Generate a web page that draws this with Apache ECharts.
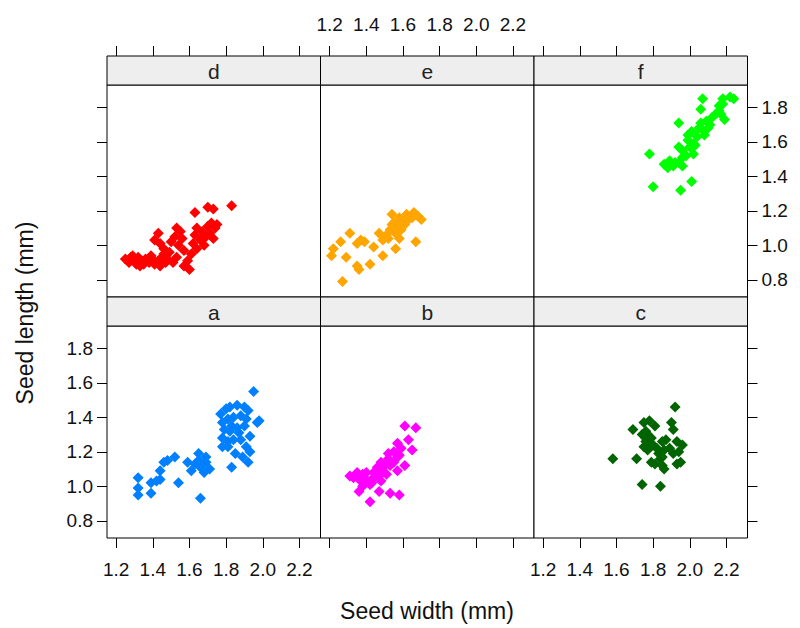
<!DOCTYPE html>
<html>
<head>
<meta charset="utf-8">
<script src="https://cdn.jsdelivr.net/npm/echarts@6/dist/echarts.min.js"></script>
<style>
  body { margin: 0; background: #fff; }
  #chart { width: 800px; height: 628px; }
</style>
</head>
<body>
<div id="chart"></div>
<script>
// panel order: top row d e f, bottom row a b c
const panelNames = ['d', 'e', 'f', 'a', 'b', 'c'];
const panelColors = ['#ff0000', '#ffa500', '#00ff00', '#0080ff', '#ff00ff', '#006400'];
const xTicks = [1.2, 1.4, 1.6, 1.8, 2.0, 2.2];
const yTicks = [0.8, 1.0, 1.2, 1.4, 1.6, 1.8];

// [seed width, seed length]
const seedsD = [
  [1.25, 0.92], [1.27, 0.90], [1.28, 0.93], [1.30, 0.91], [1.31, 0.89], [1.32, 0.93], [1.34, 0.91],
  [1.35, 0.89], [1.36, 0.92], [1.38, 0.90], [1.40, 0.92], [1.41, 0.89], [1.43, 0.91], [1.44, 0.88],
  [1.45, 0.93], [1.47, 0.90], [1.48, 0.92], [1.43, 1.07], [1.41, 1.03], [1.44, 1.01], [1.46, 0.98],
  [1.49, 0.96], [1.50, 1.02], [1.52, 1.05], [1.53, 1.10], [1.54, 1.00], [1.55, 1.08], [1.56, 1.04],
  [1.57, 0.97], [1.57, 0.88], [1.59, 0.91], [1.60, 0.86], [1.61, 0.95], [1.62, 1.01], [1.63, 1.06],
  [1.64, 1.10], [1.64, 0.98], [1.66, 1.03], [1.67, 1.08], [1.68, 1.00], [1.69, 1.05], [1.70, 1.11],
  [1.71, 1.07], [1.72, 1.13], [1.74, 1.10], [1.75, 1.12], [1.73, 1.04], [1.63, 1.19], [1.70, 1.22],
  [1.73, 1.21], [1.83, 1.23], [1.29, 0.94], [1.33, 0.88], [1.39, 0.94], [1.46, 0.95], [1.51, 0.90],
  [1.53, 0.93]
];
const seedsE = [
  [1.27, 0.79], [1.21, 0.94], [1.22, 0.98], [1.26, 1.02], [1.31, 1.07], [1.29, 0.93], [1.35, 0.88],
  [1.36, 0.86], [1.42, 0.89], [1.35, 1.01], [1.37, 1.03], [1.39, 1.02], [1.44, 0.99], [1.49, 0.94],
  [1.56, 0.98], [1.67, 1.02], [1.47, 1.07], [1.49, 1.03], [1.54, 1.18], [1.58, 1.16], [1.62, 1.18],
  [1.66, 1.19], [1.70, 1.15], [1.55, 1.13], [1.57, 1.12], [1.60, 1.14], [1.63, 1.15], [1.53, 1.09],
  [1.56, 1.07], [1.58, 1.04], [1.51, 1.06], [1.56, 1.10], [1.59, 1.09], [1.65, 1.16], [1.68, 1.17],
  [1.61, 1.12], [1.52, 1.04], [1.54, 1.12]
];
const seedsF = [
  [1.80, 1.34], [1.95, 1.32], [2.01, 1.37], [1.78, 1.53], [1.94, 1.71], [2.06, 1.79], [2.07, 1.85],
  [2.18, 1.85], [2.22, 1.86], [2.24, 1.85], [1.94, 1.57], [1.86, 1.47], [1.88, 1.45], [1.91, 1.46],
  [1.94, 1.48], [1.96, 1.46], [1.89, 1.49], [1.96, 1.51], [1.98, 1.52], [1.96, 1.55], [2.00, 1.57],
  [1.99, 1.61], [2.02, 1.59], [2.04, 1.63], [2.01, 1.66], [2.05, 1.68], [2.07, 1.67], [2.06, 1.71],
  [2.09, 1.72], [2.11, 1.70], [2.12, 1.74], [2.14, 1.76], [2.16, 1.78], [2.17, 1.76], [2.19, 1.73],
  [2.16, 1.81], [2.18, 1.82], [2.02, 1.53], [1.99, 1.64], [2.03, 1.58], [1.92, 1.48], [2.08, 1.64],
  [2.10, 1.68]
];
const seedsA = [
  [1.32, 0.95], [1.32, 0.99], [1.32, 1.05], [1.39, 0.96], [1.39, 1.02], [1.42, 1.03], [1.44, 1.04],
  [1.44, 1.09], [1.54, 1.02], [1.46, 1.14], [1.48, 1.15], [1.52, 1.17], [1.59, 1.14], [1.61, 1.09],
  [1.66, 0.93], [1.65, 1.19], [1.69, 1.17], [1.63, 1.13], [1.66, 1.11], [1.69, 1.14], [1.71, 1.10],
  [1.68, 1.08], [1.65, 1.15], [1.83, 1.11], [1.95, 1.55], [1.80, 1.45], [1.82, 1.46], [1.86, 1.47],
  [1.90, 1.46], [1.92, 1.44], [1.77, 1.42], [1.78, 1.37], [1.81, 1.39], [1.84, 1.40], [1.88, 1.41],
  [1.91, 1.39], [1.97, 1.37], [1.98, 1.38], [1.79, 1.33], [1.82, 1.32], [1.86, 1.34], [1.90, 1.35],
  [1.93, 1.29], [1.78, 1.28], [1.81, 1.26], [1.84, 1.27], [1.88, 1.27], [1.78, 1.23], [1.81, 1.23],
  [1.85, 1.19], [1.89, 1.17], [1.92, 1.14], [1.93, 1.20], [1.91, 1.23], [1.83, 1.35], [1.87, 1.31]
];
const seedsB = [
  [1.61, 1.35], [1.67, 1.34], [1.63, 1.27], [1.65, 1.21], [1.57, 1.25], [1.59, 1.22], [1.55, 1.20],
  [1.57, 1.17], [1.52, 1.16], [1.53, 1.12], [1.48, 1.14], [1.46, 1.11], [1.49, 1.09], [1.44, 1.08],
  [1.38, 1.07], [1.35, 1.08], [1.33, 1.05], [1.37, 1.03], [1.40, 1.04], [1.44, 1.05], [1.47, 1.06],
  [1.51, 1.07], [1.57, 1.09], [1.61, 1.12], [1.38, 1.00], [1.42, 1.01], [1.36, 0.97], [1.47, 0.97],
  [1.53, 0.96], [1.58, 0.95], [1.42, 0.91], [1.31, 1.06], [1.40, 1.08], [1.46, 1.09], [1.50, 1.12],
  [1.55, 1.14], [1.43, 1.02], [1.39, 1.04], [1.36, 1.05], [1.48, 1.03], [1.52, 1.19], [1.58, 1.18]
];
const seedsC = [
  [1.58, 1.16], [1.74, 1.01], [1.84, 1.00], [1.92, 1.46], [1.69, 1.33], [1.71, 1.16], [1.90, 1.37],
  [1.91, 1.33], [1.75, 1.37], [1.78, 1.38], [1.81, 1.35], [1.74, 1.30], [1.76, 1.26], [1.77, 1.23],
  [1.79, 1.28], [1.82, 1.22], [1.85, 1.26], [1.87, 1.27], [1.86, 1.21], [1.89, 1.22], [1.93, 1.26],
  [1.94, 1.20], [1.96, 1.24], [1.84, 1.16], [1.81, 1.13], [1.79, 1.14], [1.85, 1.12], [1.86, 1.10],
  [1.93, 1.13], [1.95, 1.14], [1.91, 1.19], [1.76, 1.32], [1.77, 1.21], [1.75, 1.23], [1.76, 1.28],
  [1.78, 1.25], [1.80, 1.24], [1.77, 1.30], [1.83, 1.19], [1.85, 1.17]
];
const panelData = [seedsD, seedsE, seedsF, seedsA, seedsB, seedsC];

const font = 'Liberation Sans, Arial, sans-serif';
const colLeft = [107, 320.5, 534];
const panelW = 213.5;
const stripTop = [56, 297];
const stripH = 29;
const plotH = 212;

var myChart = echarts.init(document.getElementById('chart'), null, { renderer: 'svg' });

const grids = [], xAxes = [], yAxes = [], series = [], strips = [];
panelNames.forEach(function (name, i) {
  const r = i < 3 ? 0 : 1;
  const c = i % 3;
  grids.push({
    left: colLeft[c], top: stripTop[r] + stripH, width: panelW, height: plotH,
    show: true, borderColor: '#000', borderWidth: 1, backgroundColor: '#fff'
  });
  xAxes.push({
    type: 'value', gridIndex: i, min: 1.15, max: 2.315,
    position: r === 0 ? 'top' : 'bottom',
    offset: r === 0 ? stripH : 0,
    axisLine: { show: false },
    splitLine: { show: false },
    axisTick: { show: true, length: 10, customValues: xTicks, lineStyle: { color: '#000' } },
    axisLabel: {
      show: (r === 0 && c === 1) || (r === 1 && c !== 1),
      customValues: xTicks, margin: 22, fontSize: 19, color: '#111', fontFamily: font,
      formatter: function (v) { return v.toFixed(1); }
    }
  });
  yAxes.push({
    type: 'value', gridIndex: i, min: 0.70, max: 1.93,
    position: c === 2 ? 'right' : 'left',
    axisLine: { show: false },
    splitLine: { show: false },
    axisTick: { show: c !== 1, length: 10, customValues: yTicks, lineStyle: { color: '#000' } },
    axisLabel: {
      show: (c === 0 && r === 1) || (c === 2 && r === 0),
      customValues: yTicks, margin: 14, fontSize: 19, color: '#111', fontFamily: font,
      formatter: function (v) { return v.toFixed(1); }
    }
  });
  series.push({
    type: 'scatter', name: name, xAxisIndex: i, yAxisIndex: i,
    data: panelData[i], symbol: 'diamond', symbolSize: 11,
    itemStyle: { color: panelColors[i], opacity: 1 },
    silent: true
  });
  strips.push({
    type: 'rect',
    shape: { x: colLeft[c], y: stripTop[r], width: panelW, height: stripH },
    style: { fill: '#eeeeee', stroke: '#000', lineWidth: 1 }
  });
  strips.push({
    type: 'text',
    x: colLeft[c] + panelW / 2, y: stripTop[r] + stripH / 2 + 1,
    style: {
      text: name, fontSize: 21, fontFamily: font, fill: '#222',
      align: 'center', verticalAlign: 'middle', textAlign: 'center', textVerticalAlign: 'middle'
    }
  });
});

strips.push({
  type: 'text', x: 427, y: 611,
  style: {
    text: 'Seed width (mm)', fontSize: 23, fontFamily: font, fill: '#111',
    align: 'center', verticalAlign: 'middle', textAlign: 'center', textVerticalAlign: 'middle'
  }
});
strips.push({
  type: 'text', x: 25, y: 313, rotation: Math.PI / 2,
  style: {
    text: 'Seed length (mm)', fontSize: 23, fontFamily: font, fill: '#111',
    align: 'center', verticalAlign: 'middle', textAlign: 'center', textVerticalAlign: 'middle'
  }
});

const option = {
  backgroundColor: '#fff',
  animation: false,
  grid: grids,
  xAxis: xAxes,
  yAxis: yAxes,
  series: series,
  graphic: strips
};
myChart.setOption(option);
</script>
</body>
</html>
